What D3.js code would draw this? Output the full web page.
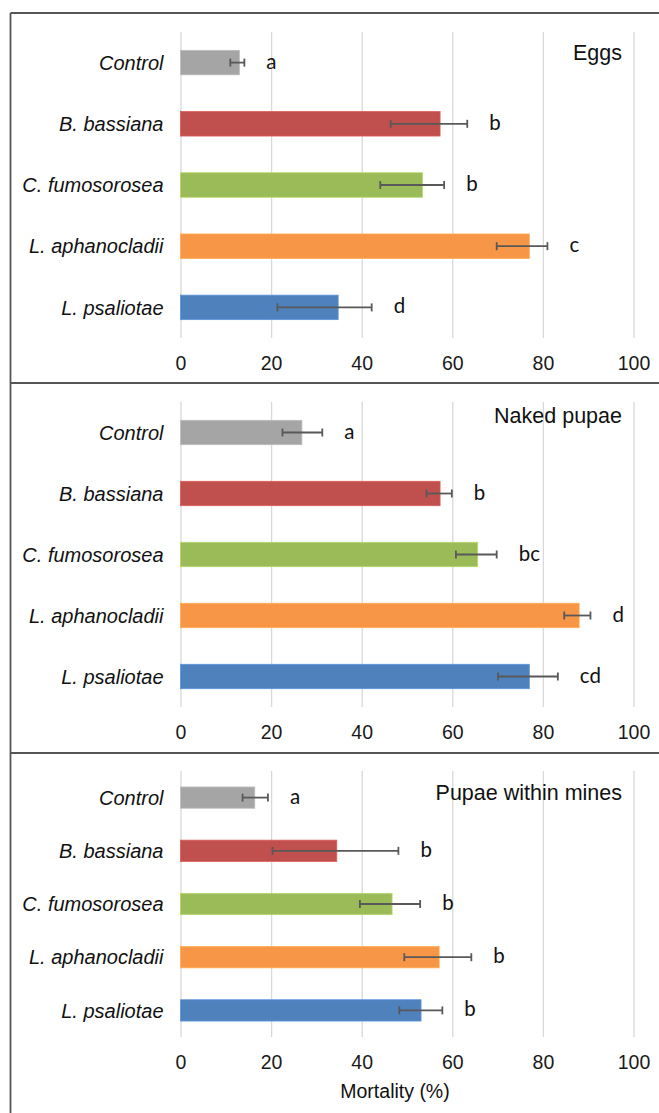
<!DOCTYPE html>
<html lang="en">
<head>
    <meta charset="UTF-8">
    <title>Mortality by fungal isolate</title>
    <script src="https://cdn.jsdelivr.net/npm/d3@7"></script>
    <style>
        body { margin: 0; background: #fff; }
        svg { display: block; }
    </style>
</head>
<body>
    <script>
        // categories (top to bottom)
        const categories = ['Control', 'B. bassiana', 'C. fumosorosea', 'L. aphanocladii', 'L. psaliotae']
        const barColors = ['#A5A5A5', '#C0504D', '#9BBB59', '#F79646', '#4F81BD']
        const xTicks = [0, 20, 40, 60, 80, 100]

        // Eggs
        const eggsMean = [13.0, 57.3, 53.4, 77.0, 34.8]
        const eggsLow = [11.0, 46.4, 44.1, 69.8, 21.4]
        const eggsHigh = [14.1, 63.3, 58.2, 81.0, 42.2]
        const eggsLetters = ['a', 'b', 'b', 'c', 'd']

        // Naked pupae
        const nakedMean = [26.8, 57.3, 65.6, 88.0, 77.0]
        const nakedLow = [22.5, 54.3, 60.8, 84.7, 70.1]
        const nakedHigh = [31.3, 59.9, 69.8, 90.5, 83.3]
        const nakedLetters = ['a', 'b', 'bc', 'd', 'cd']

        // Pupae within mines
        const minesMean = [16.4, 34.5, 46.7, 57.1, 53.1]
        const minesLow = [13.7, 20.3, 39.6, 49.4, 48.3]
        const minesHigh = [19.3, 48.1, 52.9, 64.2, 57.8]
        const minesLetters = ['a', 'b', 'b', 'b', 'b']

        const width = 659
        const height = 1113
        const sans = 'Liberation Sans, Arial, sans-serif'

        const panels = [
            { title: 'Eggs', mean: eggsMean, low: eggsLow, high: eggsHigh, letters: eggsLetters,
              top: 13, plotTop: 32, plotBottom: 338, titleY: 60 },
            { title: 'Naked pupae', mean: nakedMean, low: nakedLow, high: nakedHigh, letters: nakedLetters,
              top: 383, plotTop: 402, plotBottom: 707, titleY: 423 },
            { title: 'Pupae within mines', mean: minesMean, low: minesLow, high: minesHigh, letters: minesLetters,
              top: 753, plotTop: 771, plotBottom: 1037, titleY: 800 }
        ]

        const svg = d3.select('body')
            .append('svg')
            .attr('width', width)
            .attr('height', height)

        const xScale = d3.scaleLinear()
            .domain([0, 100])
            .range([180.5, 633.5])

        panels.forEach((p) => {
            const rows = categories.map((c, i) => ({
                name: c, mean: p.mean[i], low: p.low[i], high: p.high[i],
                letter: p.letters[i], color: barColors[i]
            }))

            const yScale = d3.scaleBand()
                .domain(categories)
                .range([p.plotTop, p.plotBottom])
                .paddingInner(0.6)
                .paddingOuter(0.3)

            // gridlines + tick labels
            const xAxis = d3.axisBottom(xScale)
                .tickValues(xTicks)
                .tickSize(-(p.plotBottom - p.plotTop))
                .tickPadding(18)

            const gx = svg.append('g')
                .attr('transform', `translate(0, ${p.plotBottom})`)
                .call(xAxis)
            gx.select('.domain').remove()
            gx.selectAll('line').attr('stroke', '#D9D9D9').attr('stroke-width', 1.3)
            gx.selectAll('text')
                .attr('font-family', sans)
                .attr('font-size', '19.5px')
                .attr('fill', '#1a1a1a')

            // category labels
            const yAxis = d3.axisLeft(yScale).tickSize(0).tickPadding(17)
            const gy = svg.append('g')
                .attr('transform', `translate(${xScale(0)}, 0)`)
                .call(yAxis)
            gy.select('.domain').remove()
            gy.selectAll('text')
                .attr('font-family', sans)
                .attr('font-style', 'italic')
                .attr('font-size', '20px')
                .attr('fill', '#111')
                .attr('dy', '0.36em')

            // bars
            svg.append('g')
                .selectAll('rect')
                .data(rows)
                .enter()
                .append('rect')
                .attr('x', xScale(0))
                .attr('y', (d) => yScale(d.name))
                .attr('width', (d) => xScale(d.mean) - xScale(0))
                .attr('height', yScale.bandwidth())
                .attr('fill', (d) => d.color)
                .attr('stroke', (d) => d3.color(d.color).brighter(0.4))
                .attr('stroke-width', 0.8)

            // error bars
            const eb = svg.append('g')
                .selectAll('g')
                .data(rows)
                .enter()
                .append('g')
                .attr('stroke', '#595959')
                .attr('stroke-width', 1.8)
            const cy = (d) => yScale(d.name) + yScale.bandwidth() / 2
            eb.append('line')
                .attr('x1', (d) => xScale(d.low))
                .attr('x2', (d) => xScale(d.high))
                .attr('y1', cy)
                .attr('y2', cy)
            eb.append('line')
                .attr('x1', (d) => xScale(d.low))
                .attr('x2', (d) => xScale(d.low))
                .attr('y1', (d) => cy(d) - 4)
                .attr('y2', (d) => cy(d) + 4)
            eb.append('line')
                .attr('x1', (d) => xScale(d.high))
                .attr('x2', (d) => xScale(d.high))
                .attr('y1', (d) => cy(d) - 4)
                .attr('y2', (d) => cy(d) + 4)

            // significance letters
            svg.append('g')
                .selectAll('text')
                .data(rows)
                .enter()
                .append('text')
                .attr('x', (d) => xScale(d.high) + 22)
                .attr('y', (d) => cy(d) + 6)
                .attr('font-family', 'Lato, Open Sans, sans-serif')
                .attr('font-size', '20.5px')
                .attr('fill', '#111')
                .text((d) => d.letter)

            // panel title
            svg.append('text')
                .attr('x', 622)
                .attr('y', p.titleY)
                .attr('text-anchor', 'end')
                .attr('font-family', sans)
                .attr('font-size', '21.5px')
                .attr('fill', '#111')
                .text(p.title)

            // frame line on top of each panel
            svg.append('line')
                .attr('x1', 10.5)
                .attr('x2', width)
                .attr('y1', p.top)
                .attr('y2', p.top)
                .attr('stroke', '#555')
                .attr('stroke-width', 1.8)
        })

        // left edge of the frame
        svg.append('line')
            .attr('x1', 10.5)
            .attr('x2', 10.5)
            .attr('y1', 13)
            .attr('y2', height)
            .attr('stroke', '#555')
            .attr('stroke-width', 1.8)

        svg.append('text')
            .attr('x', 395)
            .attr('y', 1098)
            .attr('text-anchor', 'middle')
            .attr('font-family', sans)
            .attr('font-size', '19.5px')
            .attr('fill', '#111')
            .text('Mortality (%)')
    </script>
</body>
</html>
